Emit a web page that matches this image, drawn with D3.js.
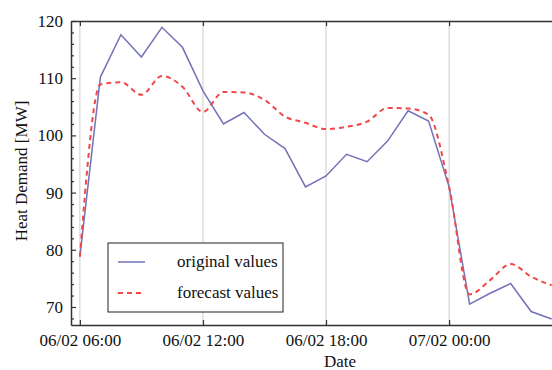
<!DOCTYPE html>
<html>
<head>
<meta charset="utf-8">
<script src="https://cdn.jsdelivr.net/npm/d3@7"></script>
<style>
body { margin: 0; background: #fff; }
svg { display: block; }
text { font-family: "Liberation Serif", "DejaVu Serif", serif; }
</style>
</head>
<body>
<svg id="chart" width="552" height="370"></svg>
<script>
// Hourly timestamps from 06/02 06:00
const hours = d3.range(24).map(i => new Date(2000, 1, 6, 6 + i, 0));
const originalValues = [78.8, 110.2, 117.6, 113.7, 118.9, 115.4, 107.8, 102.0, 104.0, 100.2, 97.7, 91.0,
  92.9, 96.7, 95.4, 99.0, 104.3, 102.5, 91.0, 70.5, 72.4, 74.1, 69.2, 67.9];
const forecastValues = [78.8, 108.9, 109.3, 107.1, 110.4, 108.5, 104.1, 107.6, 107.5, 106.2, 103.3, 102.2,
  101.1, 101.5, 102.4, 104.8, 104.7, 103.6, 91.0, 72.2, 74.7, 77.5, 75.3, 73.8];
const xTicks = [new Date(2000,1,6,6), new Date(2000,1,6,12), new Date(2000,1,6,18), new Date(2000,1,7,0)];
const yTicks = [70, 80, 90, 100, 110, 120];
const seriesNames = ["original values", "forecast values"];

const svg = d3.select("#chart");
const L = 71, R = 552, T = 21, B = 325;
const FS = "17px";

const x = d3.scaleTime()
  .domain([new Date(2000,1,6,5,34), new Date(2000,1,7,5,1)])
  .range([L, R]);
const y = d3.scaleLinear().domain([66.85, 120]).range([B, T]);

// clip
svg.append("defs").append("clipPath").attr("id", "clip")
  .append("rect").attr("x", L).attr("y", T).attr("width", R - L).attr("height", B - T);

// vertical grid
svg.append("g").selectAll("line").data(xTicks).join("line")
  .attr("x1", d => x(d)).attr("x2", d => x(d))
  .attr("y1", T).attr("y2", B)
  .attr("stroke", "#cccccc").attr("stroke-width", 1);

// lines
const plot = svg.append("g").attr("clip-path", "url(#clip)");
const lineO = d3.line().x((d, i) => x(hours[i])).y(d => y(d));
const lineF = d3.line().x((d, i) => x(hours[i])).y(d => y(d)).curve(d3.curveMonotoneX);
plot.append("path").datum(originalValues).attr("d", lineO)
  .attr("fill", "none").attr("stroke", "#7272b8").attr("stroke-width", 1.5);
plot.append("path").datum(forecastValues).attr("d", lineF)
  .attr("fill", "none").attr("stroke", "#f04848").attr("stroke-width", 2)
  .attr("stroke-dasharray", "5,4");

// axes
const axisColor = "#333";
const fmt = d3.timeFormat("%d/%m %H:%M");
const gx = svg.append("g").attr("transform", `translate(0,${B})`)
  .call(d3.axisBottom(x).tickValues(xTicks).tickFormat(fmt).tickSizeInner(-5).tickSizeOuter(0).tickPadding(9));
const gxTop = svg.append("g").attr("transform", `translate(0,${T})`)
  .call(d3.axisTop(x).tickValues(xTicks).tickFormat("").tickSizeInner(-5).tickSizeOuter(0));
const minorY = d3.range(68, 121, 2).filter(v => v % 10 !== 0);
const gyMinor = svg.append("g").attr("transform", `translate(${L},0)`)
  .call(d3.axisLeft(y).tickValues(minorY).tickFormat("").tickSizeInner(-3).tickSizeOuter(0));
const gy = svg.append("g").attr("transform", `translate(${L},0)`)
  .call(d3.axisLeft(y).tickValues(yTicks).tickFormat(d3.format("d")).tickSizeInner(-5).tickSizeOuter(0).tickPadding(8));

[gx, gxTop, gy, gyMinor].forEach(g => {
  g.select(".domain").attr("stroke", axisColor).attr("stroke-width", 1.5);
  g.selectAll(".tick line").attr("stroke", axisColor).attr("stroke-width", 1.2);
  g.selectAll("text").attr("fill", "#111").style("font-size", FS)
    .style("font-family", '"Liberation Serif", serif');
});
gyMinor.select(".domain").remove();

// axis labels
svg.append("text").attr("x", 340).attr("y", 367).attr("text-anchor", "middle")
  .style("font-size", FS).attr("fill", "#111").text("Date");
svg.append("text").attr("transform", "translate(27,171) rotate(-90)").attr("text-anchor", "middle")
  .style("font-size", FS).attr("fill", "#111").text("Heat Demand [MW]");

// legend
const lg = svg.append("g");
lg.append("rect").attr("x", 108).attr("y", 243).attr("width", 175).attr("height", 69)
  .attr("fill", "#fff").attr("stroke", "#222").attr("stroke-width", 1);
const styles = [
  { color: "#7272b8", w: 1.5, dash: null },
  { color: "#f04848", w: 2, dash: "5,4" }
];
seriesNames.forEach((name, i) => {
  const yy = 262 + i * 31;
  lg.append("line").attr("x1", 118).attr("x2", 145).attr("y1", yy).attr("y2", yy)
    .attr("stroke", styles[i].color).attr("stroke-width", styles[i].w)
    .attr("stroke-dasharray", styles[i].dash);
  lg.append("text").attr("x", 177).attr("y", yy + 5).style("font-size", FS)
    .attr("fill", "#111").text(name);
});
</script>
</body>
</html>
